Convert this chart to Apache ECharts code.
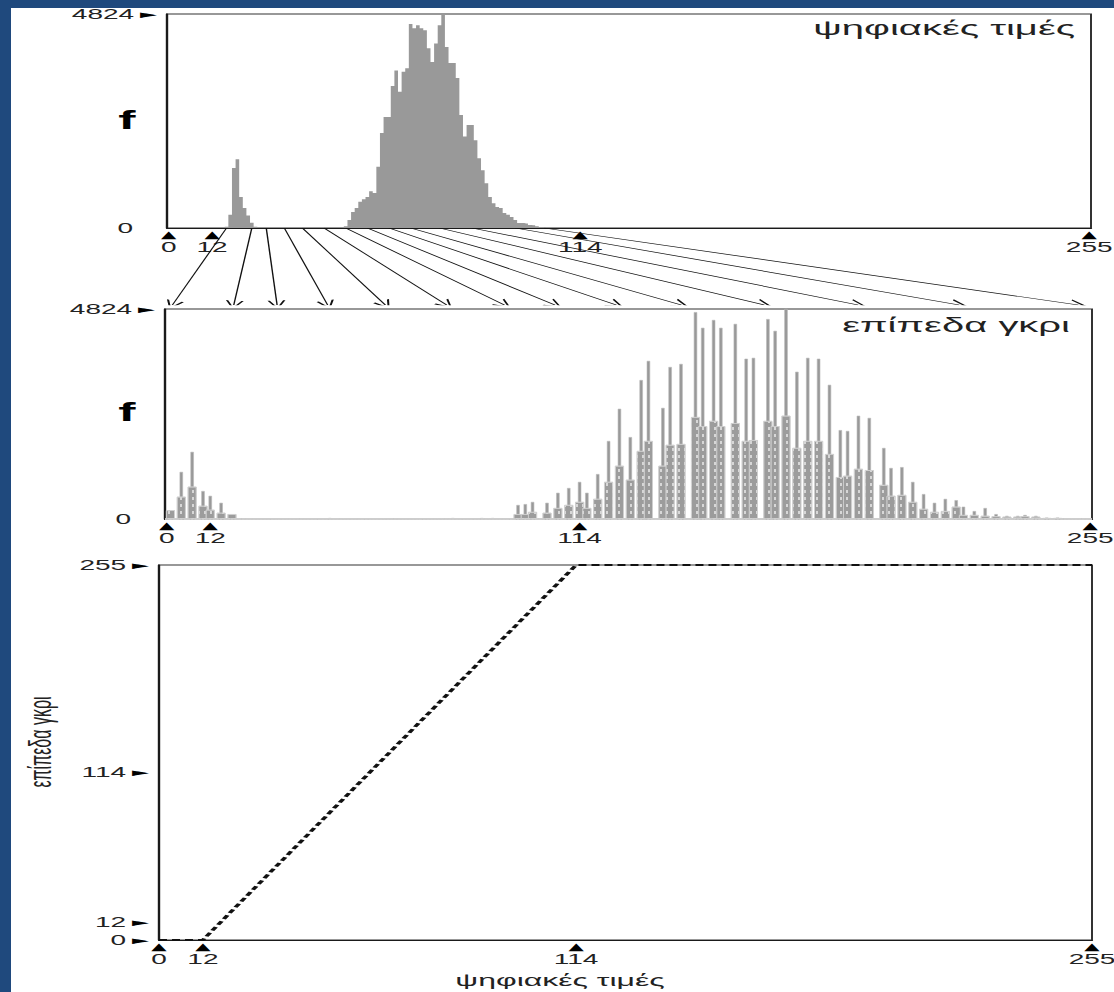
<!DOCTYPE html>
<html>
<head>
<meta charset="utf-8">
<script src="https://cdn.jsdelivr.net/npm/echarts@6/dist/echarts.min.js"></script>
<style>
  html, body { margin: 0; padding: 0; background: #fff; }
  #page { position: relative; width: 1114px; height: 992px; background: #1f497d; overflow: hidden; }
  #sheet { position: absolute; left: 11px; top: 8px; right: 0; bottom: 0; background: #fff; }
  /* the figure is laid out at half width and stretched horizontally */
  #chart { position: absolute; left: 0; top: 0; width: 557px; height: 992px;
           transform: scaleX(2); transform-origin: 0 0; }
</style>
</head>
<body>
<div id="page"><div id="sheet"></div><div id="chart"></div></div>
<script>
// ---- data -------------------------------------------------------------
// gray levels shown on every horizontal axis
const xTickLevels = [0, 12, 114, 255];
// frequency axis range of both histograms
const fTicks = [0, 4824];
// gray levels marked on the output axis of the mapping
const mapTicks = [0, 12, 114, 255];

// original image histogram (digital values)
const rawLevels = [16, 17, 18, 19, 20, 21, 22, 23, 24,
  49, 50, 51, 52, 53, 54, 55, 56, 57, 58, 59, 60, 61, 62, 63, 64, 65, 66, 67, 68,
  69, 70, 71, 72, 73, 74, 75, 76, 77, 78, 79, 80, 81, 82, 83, 84, 85, 86, 87, 88,
  89, 90, 91, 92, 93, 94, 95, 96, 97, 98, 99, 100, 101, 102, 103];
const rawCounts = [30, 300, 1350, 1550, 700, 450, 280, 120, 30,
  40, 180, 360, 450, 590, 650, 700, 830, 790, 1380, 2140, 2500, 2500, 3200, 3550, 3070, 3520, 3600, 4600, 4500,
  4570, 4500, 4460, 4050, 3740, 4160, 4570, 4824, 4080, 3720, 3720, 3380, 2550, 2060, 2320, 2320, 1980, 1570, 1300, 1010,
  700, 560, 475, 450, 340, 300, 250, 180, 110, 110, 100, 70, 60, 40, 20];

// stretched histogram (gray levels): narrow peaks and the wider lower blocks
const outLevels = [1, 4, 7, 10, 12, 15, 18, 45, 79, 87, 90, 97, 99, 101, 105,
  108, 111, 114, 116, 119, 122, 125, 128, 131, 133, 137, 139, 142, 146, 148,
  151, 153, 157, 160, 162, 166, 168, 171, 174, 177, 180, 183, 186, 188, 191,
  194, 198, 200, 203, 206, 209, 212, 215, 218, 220, 223, 226, 229, 232, 235,
  237, 240, 243, 246];
const outPeak = [0, 1080, 1540, 640, 530, 370, 0, 20, 20, 20, 20, 320, 340, 390, 370,
  600, 710, 850, 600, 1030, 1790, 2530, 1880, 3190, 3630, 2550, 3490, 3560, 4750, 4390,
  4570, 4390, 4480, 3680, 3700, 4590, 4320, 4824, 3380, 3700, 3680, 3080, 2040, 2020, 2370,
  2320, 1630, 1170, 1190, 850, 570, 370, 460, 430, 280, 180, 250, 110, 70, 70,
  90, 70, 30, 30];
const outBody = [200, 510, 740, 300, 210, 140, 110, 0, 0, 0, 0, 110, 110, 160, 140,
  250, 320, 390, 250, 460, 850, 1220, 900, 1560, 1790, 1220, 1700, 1720, 2340, 2130,
  2250, 2130, 2200, 1790, 1810, 2250, 2130, 2370, 1630, 1790, 1790, 1490, 960, 990, 1150,
  1120, 780, 530, 550, 390, 230, 160, 180, 280, 90, 90, 70, 60, 50, 50,
  60, 50, 20, 20];

// arrows: digital value -> gray level
const arrowFrom = [16, 23, 27, 32, 37, 43, 49, 55, 61, 67, 75, 84, 96, 104];
const arrowTo   = [1, 18, 30, 44, 60, 77, 93, 107, 124, 142, 165, 191, 219, 252];

// linear stretch: digital value -> gray level
const mapIn  = [0, 12, 114, 255];
const mapOut = [0, 0, 255, 255];

// ---- tables built from the arrays -------------------------------------
const levelNames = [];
for (let i = 0; i < 256; i++) levelNames.push(String(i));
const rawHist = new Array(256).fill(0);
rawLevels.forEach((l, i) => { rawHist[l] = rawCounts[i]; });
const peakHist = new Array(256).fill(0);
const bodyHist = new Array(256).fill(0);
outLevels.forEach((l, i) => { peakHist[l] = outPeak[i]; bodyHist[l] = outBody[i]; });

// ---- styling helpers --------------------------------------------------
const INK = '#1a1a1a';
const NUM_FONT = '"Liberation Sans", Arial, sans-serif';
const TRI_FONT = '"DejaVu Sans", sans-serif';

const xLabelRich = {
  t: { fontFamily: TRI_FONT, fontSize: 10, lineHeight: 10, color: '#000' },
  n: { fontFamily: NUM_FONT, fontSize: 14, lineHeight: 15, color: '#222' }
};
const yLabelRich = {
  n: { fontFamily: NUM_FONT, fontSize: 14, color: '#222' },
  t: { fontFamily: TRI_FONT, fontSize: 11, color: '#000', padding: [0, 0, 0, 3] },
  s: { width: 12 }
};
const xFmt = v => '{t|▲}\n{n|' + v + '}';

function histXAxis(gridIndex, show) {
  return {
    type: 'category', gridIndex, data: levelNames, boundaryGap: true,
    show: show,
    axisLine: { show: show, lineStyle: { color: INK, width: 1.2 } },
    axisTick: { show: false },
    splitLine: { show: false },
    axisLabel: {
      show: show, margin: 2, rich: xLabelRich, formatter: xFmt,
      interval: (idx) => xTickLevels.indexOf(idx) >= 0
    }
  };
}
function fYAxis(gridIndex) {
  return {
    type: 'value', gridIndex, min: fTicks[0], max: fTicks[1], interval: fTicks[1] - fTicks[0],
    axisLine: { show: true, lineStyle: { color: INK, width: 1.2 } },
    axisTick: { show: false },
    splitLine: { show: false },
    axisLabel: {
      margin: 5, rich: yLabelRich,
      formatter: v => v === fTicks[1] ? '{n|' + v + '}{t|►}' : '{n|' + v + '}{s|}'
    }
  };
}
const frame = { show: true, borderColor: '#333', borderWidth: 1, backgroundColor: 'transparent',
                containLabel: false, outerBoundsMode: 'none' };

const chart = echarts.init(document.getElementById('chart'), null,
  { renderer: 'svg', width: 557, height: 992 });

chart.setOption({
  animation: false,
  backgroundColor: 'transparent',
  grid: [
    Object.assign({ left: 83.5, top: 14, width: 462, height: 214 }, frame),
    { left: 83.5, top: 228, width: 462, height: 77, show: false, containLabel: false, outerBoundsMode: 'none' },
    Object.assign({ left: 82.5, top: 309, width: 463.5, height: 210 }, frame),
    Object.assign({ left: 79.5, top: 565, width: 466.5, height: 375 }, frame)
  ],
  xAxis: [
    histXAxis(0, true),
    { type: 'value', gridIndex: 1, min: -0.5, max: 255.5, show: false },
    histXAxis(2, true),
    histXAxis(2, false),
    {
      type: 'value', gridIndex: 3, min: 0, max: 255,
      axisLine: { show: true, lineStyle: { color: INK, width: 1.2 } },
      axisTick: { show: false }, splitLine: { show: false },
      axisLabel: { margin: 2, rich: xLabelRich, formatter: xFmt, customValues: xTickLevels }
    }
  ],
  yAxis: [
    fYAxis(0),
    { type: 'value', gridIndex: 1, min: 0, max: 1, show: false },
    fYAxis(2),
    {
      type: 'value', gridIndex: 3, min: 0, max: 255,
      axisLine: { show: true, lineStyle: { color: INK, width: 1.2 } },
      axisTick: { show: false }, splitLine: { show: false },
      axisLabel: { margin: 5, rich: yLabelRich, customValues: mapTicks,
                   formatter: v => '{n|' + v + '}{t|►}' }
    }
  ],
  series: [
    {
      // histogram drawn as one stepped silhouette, one step per digital value
      name: 'ψηφιακές τιμές', type: 'line', xAxisIndex: 0, yAxisIndex: 0,
      data: rawHist, step: 'middle', symbol: 'none',
      lineStyle: { width: 0 },
      areaStyle: { color: '#999999', opacity: 1 }
    },
    {
      name: 'αντιστοίχιση', type: 'lines', coordinateSystem: 'cartesian2d',
      xAxisIndex: 1, yAxisIndex: 1,
      symbol: ['none', 'path://M5,0L10,10L8.7,10L5,2.4L1.3,10L0,10Z'],
      symbolSize: [6, 9],
      lineStyle: { color: '#111', width: 0.7, opacity: 1 },
      data: arrowFrom.map((a, i) => ({ coords: [[a, 1], [arrowTo[i], 0]] }))
    },
    {
      name: 'κορυφές', type: 'bar', xAxisIndex: 2, yAxisIndex: 2,
      data: peakHist, barWidth: 1.8,
      itemStyle: { color: '#999999', borderColor: '#b8b8b8', borderWidth: 0.4 }
    },
    {
      name: 'επίπεδα γκρι', type: 'bar', xAxisIndex: 3, yAxisIndex: 2,
      data: bodyHist, barWidth: 4.6,
      itemStyle: {
        color: '#9c9c9c', borderColor: '#cfcfcf', borderWidth: 0.5,
        decal: { symbol: 'rect', symbolSize: 1, color: 'rgba(222,222,222,0.9)',
                 dashArrayX: [1, 1.3], dashArrayY: [3, 3.5], rotation: 0 }
      }
    },
    {
      name: 'γραμμική διάταση', type: 'line', xAxisIndex: 4, yAxisIndex: 3,
      data: mapIn.map((v, i) => [v, mapOut[i]]),
      symbol: 'none', z: 5,
      lineStyle: { color: '#111', width: 2.2, type: [4, 2.5] }
    }
  ],
  graphic: [
    { type: 'text', x: 537.5, y: 28, style: { text: 'ψηφιακές τιμές', font: '20px "Liberation Sans", Arial, sans-serif',
      fill: '#222', textAlign: 'right', textVerticalAlign: 'middle' } },
    { type: 'text', x: 535, y: 325, style: { text: 'επίπεδα γκρι', font: '20px "Liberation Sans", Arial, sans-serif',
      fill: '#222', textAlign: 'right', textVerticalAlign: 'middle' } },
    { type: 'text', x: 63.5, y: 120, style: { text: 'f', font: 'bold 26px "Liberation Sans", Arial, sans-serif',
      fill: '#000', textAlign: 'center', textVerticalAlign: 'middle' } },
    { type: 'text', x: 63.5, y: 412, style: { text: 'f', font: 'bold 26px "Liberation Sans", Arial, sans-serif',
      fill: '#000', textAlign: 'center', textVerticalAlign: 'middle' } },
    { type: 'text', x: 20, y: 742, rotation: Math.PI / 2, style: { text: 'επίπεδα γκρι',
      font: '16px "Liberation Sans", Arial, sans-serif', fill: '#222', textAlign: 'center', textVerticalAlign: 'middle' } },
    { type: 'text', x: 280, y: 980, style: { text: 'ψηφιακές τιμές', font: '16px "Liberation Sans", Arial, sans-serif',
      fill: '#222', textAlign: 'center', textVerticalAlign: 'middle' } }
  ]
});
</script>
</body>
</html>
